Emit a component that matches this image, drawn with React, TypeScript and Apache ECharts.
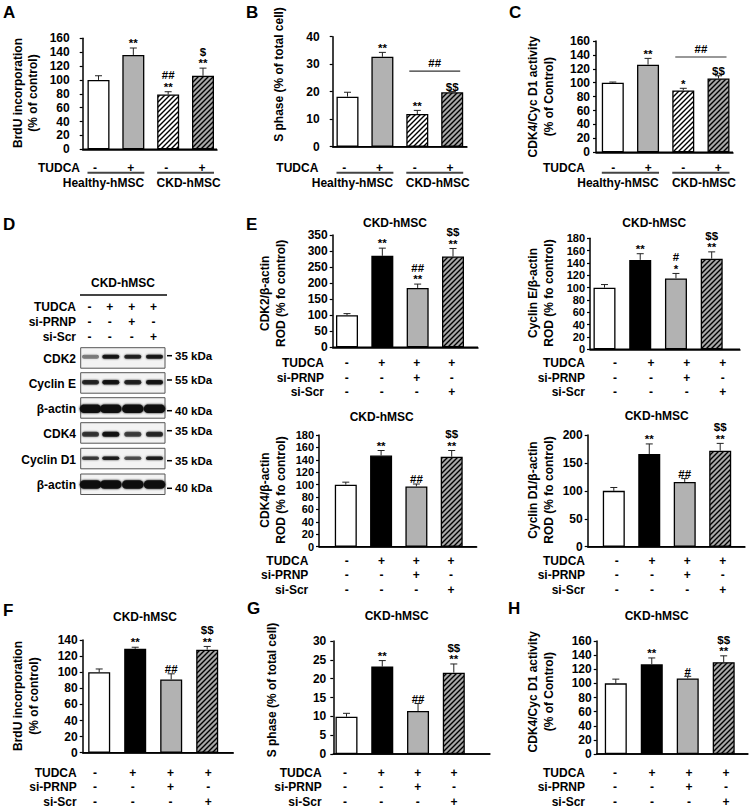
import React, { useEffect, useRef } from 'react';
import * as echarts from 'echarts';

const FONT = '"Liberation Sans", Arial, Helvetica, sans-serif';

// ---------- conditions ----------
const tudcaHealthyCkd = ['-', '+', '-', '+'];
const groupLabels = ['Healthy-hMSC', 'CKD-hMSC'];
const tudcaRow = ['-', '+', '+', '+'];
const siPrnpRow = ['-', '-', '+', '-'];
const siScrRow = ['-', '-', '-', '+'];
const rowNamesAll = ['TUDCA', 'si-PRNP', 'si-Scr'];

// ---------- A: BrdU ----------
const brduA = [100, 136, 79, 106];
const brduAErr = [6, 10, 4, 11];
const brduAMarks = ['', '**', '##\n**', '$\n**'];
// ---------- B: S phase ----------
const sPhaseB = [18.2, 32.7, 11.9, 19.8];
const sPhaseBErr = [1.6, 1.6, 1.3, 0.3];
const sPhaseBMarks = ['', '**', '**', '$$'];
// ---------- C: CDK4/Cyc D1 activity ----------
const cdkActC = [100, 126, 89, 106];
const cdkActCErr = [1, 9, 3, 4];
const cdkActCMarks = ['', '**', '*', '$$'];
// ---------- E ----------
const cdk2E = [100, 285, 185, 283];
const cdk2EErr = [5, 24, 12, 25];
const cdk2EMarks = ['', '**', '##\n**', '$$\n**'];
const cycEE = [100, 145, 115, 147];
const cycEEErr = [5, 10, 8, 11];
const cycEEMarks = ['', '**', '#\n*', '$$\n**'];
const cdk4E = [100, 147, 97, 145];
const cdk4EErr = [4, 8, 4, 10];
const cdk4EMarks = ['', '**', '##', '$$\n**'];
const cycD1E = [100, 166, 116, 172];
const cycD1EErr = [6, 18, 6, 13];
const cycD1EMarks = ['', '**', '##', '$$\n**'];
// ---------- F, G, H ----------
const brduF = [100, 129, 91, 128];
const brduFErr = [4, 2, 7, 4];
const brduFMarks = ['', '**', '##', '$$\n**'];
const sPhaseG = [9.9, 23.2, 11.4, 21.6];
const sPhaseGErr = [0.9, 1.6, 2, 2.3];
const sPhaseGMarks = ['', '**', '##', '$$\n**'];
const cdkActH = [100, 127, 107, 130];
const cdkActHErr = [6, 9, 3, 9];
const cdkActHMarks = ['', '**', '#', '$$\n**'];

// comparison brackets (B, C)
const compB = { from: 2, to: 3, level: 27.5, mark: '##' };
const compC = { from: 2, to: 3, level: 137, mark: '##' };

// ---------- D: western blot ----------
const blotProteins = ['CDK2', 'Cyclin E', 'β-actin', 'CDK4', 'Cyclin D1', 'β-actin'];
const blotKda = ['35 kDa', '55 kDa', '40 kDa', '35 kDa', '35 kDa', '40 kDa'];
const blotIntensity = [
  [0.45, 0.9, 0.82, 0.88],
  [0.8, 0.9, 0.82, 0.9],
  [0.97, 0.97, 0.97, 0.97],
  [0.72, 0.92, 0.68, 0.78],
  [0.7, 0.85, 0.62, 0.85],
  [0.97, 0.97, 0.97, 0.97],
];

const stylesHC = ['white', 'gray', 'hatchWhite', 'hatchGray'];
const stylesKD = ['white', 'black', 'gray', 'hatchGray'];

// ---------- layout ----------
const ROWS_E_TOP = [362.7, 377.7, 391.7];
const ROWS_E_BOT = [560.7, 575, 589.7];
const ROWS_FGH = [772.7, 787.3, 801.7];

const panels: any[] = [
  { values: brduA, errs: brduAErr, marks: brduAMarks, styles: stylesHC, rows: [tudcaHealthyCkd], rowNames: ['TUDCA'], yMax: 160, yStep: 20,
    left: 82.7, right: 217, top: 38.3, bottom: 149.3, barC0: 98.5, barC3: 203, signC0: 95, signC3: 202, rowY: [167.7], nameRight: 80, labelMargin: 13, tickFont: 12 },
  { values: sPhaseB, errs: sPhaseBErr, marks: sPhaseBMarks, styles: stylesHC, rows: [tudcaHealthyCkd], rowNames: ['TUDCA'], yMax: 40, yStep: 10,
    left: 332.7, right: 467, top: 36.7, bottom: 146.7, barC0: 347.5, barC3: 452.2, signC0: 344.3, signC3: 450, rowY: [167.7], nameRight: 318.3, labelMargin: 13, tickFont: 12 },
  { values: cdkActC, errs: cdkActCErr, marks: cdkActCMarks, styles: stylesHC, rows: [tudcaHealthyCkd], rowNames: ['TUDCA'], yMax: 160, yStep: 20,
    left: 596, right: 733, top: 41, bottom: 152.3, barC0: 612.8, barC3: 718.5, signC0: 613.3, signC3: 718.3, rowY: [167.7], nameRight: 585, labelMargin: 6, tickFont: 12 },
  { values: cdk2E, errs: cdk2EErr, marks: cdk2EMarks, styles: stylesKD, rows: [tudcaRow, siPrnpRow, siScrRow], rowNames: rowNamesAll, yMax: 350, yStep: 50,
    left: 332.7, right: 478, top: 235, bottom: 347.3, barC0: 347, barC3: 453, signC0: 346.7, signC3: 451.7, rowY: ROWS_E_TOP, nameRight: 324, labelMargin: 5, tickFont: 12 },
  { values: cycEE, errs: cycEEErr, marks: cycEEMarks, styles: stylesKD, rows: [tudcaRow, siPrnpRow, siScrRow], rowNames: rowNamesAll, yMax: 180, yStep: 20,
    left: 590, right: 740, top: 238.3, bottom: 349.3, barC0: 604.5, barC3: 711.7, signC0: 615, signC3: 722.7, rowY: ROWS_E_TOP, nameRight: 585, labelMargin: 5, tickFont: 11 },
  { values: cdk4E, errs: cdk4EErr, marks: cdk4EMarks, styles: stylesKD, rows: [tudcaRow, siPrnpRow, siScrRow], rowNames: rowNamesAll, yMax: 180, yStep: 20,
    left: 319, right: 476.7, top: 435, bottom: 546.7, barC0: 345.8, barC3: 451.7, signC0: 346.7, signC3: 451, rowY: ROWS_E_BOT, nameRight: 308.3, labelMargin: 5, tickFont: 11 },
  { values: cycD1E, errs: cycD1EErr, marks: cycD1EMarks, styles: stylesKD, rows: [tudcaRow, siPrnpRow, siScrRow], rowNames: rowNamesAll, yMax: 200, yStep: 50,
    left: 587.7, right: 745, top: 435, bottom: 546.7, barC0: 613.8, barC3: 720.2, signC0: 616.7, signC3: 722.7, rowY: ROWS_E_BOT, nameRight: 585, labelMargin: 5, tickFont: 12 },
  { values: brduF, errs: brduFErr, marks: brduFMarks, styles: stylesKD, rows: [tudcaRow, siPrnpRow, siScrRow], rowNames: rowNamesAll, yMax: 140, yStep: 20,
    left: 82.7, right: 233.3, top: 640, bottom: 752.7, barC0: 99.2, barC3: 207.2, signC0: 95, signC3: 208.3, rowY: ROWS_FGH, nameRight: 76.7, labelMargin: 5, tickFont: 12 },
  { values: sPhaseG, errs: sPhaseGErr, marks: sPhaseGMarks, styles: stylesKD, rows: [tudcaRow, siPrnpRow, siScrRow], rowNames: rowNamesAll, yMax: 30, yStep: 5,
    left: 333.3, right: 490, top: 641, bottom: 754, barC0: 346.5, barC3: 453.8, signC0: 345, signC3: 454, rowY: ROWS_FGH, nameRight: 321.7, labelMargin: 7, tickFont: 12 },
  { values: cdkActH, errs: cdkActHErr, marks: cdkActHMarks, styles: stylesKD, rows: [tudcaRow, siPrnpRow, siScrRow], rowNames: rowNamesAll, yMax: 160, yStep: 20,
    left: 596.7, right: 748, top: 641, bottom: 754, barC0: 615.8, barC3: 723.7, signC0: 615, signC3: 726, rowY: ROWS_FGH, nameRight: 585, labelMargin: 5, tickFont: 12 },
];

const BAR_W = 22;

const yNames = [
  { text: 'BrdU incorporation\n(% of control)', x: 25.5, y: 93 },
  { text: 'S phase (% of total cell)', x: 279, y: 74.5 },
  { text: 'CDK4/Cyc D1 activity\n(% of Control)', x: 541, y: 96.7 },
  { text: 'CDK2/β-actin\nROD (% fo control)', x: 273, y: 293.3 },
  { text: 'Cyclin E/β-actin\nROD (% fo control)', x: 540.8, y: 293 },
  { text: 'CDK4/β-actin\nROD (% fo control)', x: 273, y: 490 },
  { text: 'Cyclin D1/β-actin\nROD (% fo control)', x: 541.2, y: 490 },
  { text: 'BrdU incorporation\n(% of control)', x: 25.8, y: 696 },
  { text: 'S phase (% of total cell)', x: 271.7, y: 690 },
  { text: 'CDK4/Cyc D1 activity\n(% of Control)', x: 540.8, y: 691.7 },
];

const titles = [
  { x: 395, y: 222.7 }, { x: 654.3, y: 222.7 }, { x: 381.7, y: 416.7 }, { x: 656.7, y: 415.7 },
  { x: 145, y: 617 }, { x: 396.7, y: 616 }, { x: 656.7, y: 616 },
];

const letters = [
  { t: 'A', x: 3, y: 12 }, { t: 'B', x: 246, y: 12 }, { t: 'C', x: 509, y: 12 },
  { t: 'D', x: 3, y: 224 }, { t: 'E', x: 246, y: 224 },
  { t: 'F', x: 3, y: 610 }, { t: 'G', x: 247, y: 608 }, { t: 'H', x: 508, y: 608 },
];

const txt = { fontSize: 12, fontWeight: 'bold', fontFamily: FONT, color: '#000' };

function makeHatch(bg: string, fg: string, lw: number) {
  const s = 5;
  const c = document.createElement('canvas');
  c.width = s; c.height = s;
  const g = c.getContext('2d') as CanvasRenderingContext2D;
  g.fillStyle = bg; g.fillRect(0, 0, s, s);
  g.strokeStyle = fg; g.lineWidth = lw;
  g.beginPath();
  g.moveTo(-1, s + 1); g.lineTo(s + 1, -1);
  g.moveTo(-1, 1); g.lineTo(1, -1);
  g.moveTo(s - 1, s + 1); g.lineTo(s + 1, s - 1);
  g.stroke();
  return c;
}

function buildOption(pat: any) {
  const fills: any = {
    white: '#ffffff',
    gray: '#b2b2b2',
    black: '#000000',
    hatchWhite: { image: pat.hatchWhite, repeat: 'repeat', imageWidth: 5, imageHeight: 5 },
    hatchGray: { image: pat.hatchGray, repeat: 'repeat', imageWidth: 5, imageHeight: 5 },
  };
  const grid: any[] = [], xAxis: any[] = [], yAxis: any[] = [], series: any[] = [];
  panels.forEach((p, pi) => {
    grid.push({ left: p.left, top: p.top, width: p.right - p.left, height: p.bottom - p.top, containLabel: false, outerBoundsMode: 'none' });
    const kB = (p.barC3 - p.barC0) / 3;
    const bMin = -(p.barC0 - p.left) / kB;
    const bMax = bMin + (p.right - p.left) / kB;
    const mainX = xAxis.length;
    xAxis.push({
      type: 'value', gridIndex: pi, min: bMin, max: bMax, position: 'bottom',
      axisLine: { show: true, onZero: false, lineStyle: { color: '#000', width: 1.5 } },
      axisTick: { show: false }, axisLabel: { show: false }, splitLine: { show: false },
    });
    const kS = (p.signC3 - p.signC0) / 3;
    const sMin = -(p.signC0 - p.left) / kS;
    const sMax = sMin + (p.right - p.left) / kS;
    p.rows.forEach((row: string[], ri: number) => {
      xAxis.push({
        type: 'value', gridIndex: pi, min: sMin, max: sMax, position: 'bottom', offset: p.rowY[ri] - p.bottom,
        axisLine: { show: false, onZero: false }, axisTick: { show: false }, splitLine: { show: false },
        axisLabel: { ...txt, lineHeight: 12, customValues: [0, 1, 2, 3], formatter: (v: number) => row[Math.round(v)] ?? '', margin: 0, verticalAlign: 'middle' },
        name: p.rowNames[ri], nameLocation: 'start', nameGap: p.left - p.nameRight,
        nameTextStyle: { ...txt, lineHeight: 12, align: 'right', verticalAlign: 'middle' },
      });
    });
    yAxis.push({
      type: 'value', gridIndex: pi, min: 0, max: p.yMax, interval: p.yStep,
      axisLine: { show: true, onZero: false, lineStyle: { color: '#000', width: 1.5 } },
      axisTick: { show: true, length: 3, lineStyle: { color: '#000', width: 1.2 } },
      splitLine: { show: false },
      axisLabel: { ...txt, fontSize: p.tickFont, lineHeight: 11, margin: p.labelMargin },
    });
    series.push({
      type: 'bar', xAxisIndex: mainX, yAxisIndex: pi, barWidth: BAR_W, clip: false, z: 2,
      data: p.values.map((v: number, i: number) => ({
        value: [i, v],
        itemStyle: { color: fills[p.styles[i]], borderColor: '#000', borderWidth: 1.3 },
      })),
    });
    const marks: string[] = p.marks;
    series.push({
      type: 'custom', xAxisIndex: mainX, yAxisIndex: pi, clip: false, z: 3,
      encode: { x: 0, y: 1 },
      data: p.values.map((v: number, i: number) => [i, v, p.errs[i]]),
      renderItem: (params: any, api: any) => {
        const x = api.value(0), v = api.value(1), e = api.value(2);
        const b = api.coord([x, v]);
        const t = api.coord([x, v + e]);
        const children: any[] = [];
        if (e > 0) {
          children.push({ type: 'line', shape: { x1: b[0], y1: b[1], x2: t[0], y2: t[1] }, style: { stroke: '#222', lineWidth: 1 } });
          children.push({ type: 'line', shape: { x1: t[0] - 3.5, y1: t[1], x2: t[0] + 3.5, y2: t[1] }, style: { stroke: '#222', lineWidth: 1 } });
        }
        const m = marks[params.dataIndex];
        if (m) {
          children.push({
            type: 'text', x: t[0], y: t[1] + 1,
            style: { text: m, align: 'center', verticalAlign: 'bottom', lineHeight: 11.5, fontSize: 11.5, fontWeight: 'bold', fontFamily: FONT, fill: '#000' },
          });
        }
        return { type: 'group', children };
      },
    });
  });
  return { animation: false, backgroundColor: '#ffffff', grid, xAxis, yAxis, series };
}

function T(text: string, x: number, y: number, extra: any = {}) {
  return {
    type: 'text', x, y, silent: true,
    style: { text, fontSize: 12, fontWeight: 'bold', fontFamily: FONT, fill: '#000', align: 'center', verticalAlign: 'middle', ...extra },
  };
}
function L(x1: number, y1: number, x2: number, y2: number, w = 1.5, c = '#444') {
  return { type: 'line', silent: true, shape: { x1, y1, x2, y2 }, style: { stroke: c, lineWidth: w } };
}

function buildGraphics(px: (pi: number, x: number, y: number) => number[]) {
  const els: any[] = [];
  letters.forEach((l) => els.push(T(l.t, l.x, l.y, { align: 'left', fontSize: 17 })));
  titles.forEach((t) => els.push(T('CKD-hMSC', t.x, t.y)));
  yNames.forEach((n) => els.push({ ...T(n.text, n.x, n.y, { lineHeight: 15.5 }), rotation: Math.PI / 2 }));

  // x-axis baselines (category axis line of each chart)
  panels.forEach((p, pi) => {
    const y0 = px(pi, 0, 0)[1];
    els.push({ ...L(p.left, y0, p.right, y0, 1.5, '#000'), z: 10 });
  });

  // group brackets for A, B, C
  const groupDx = [-12.5, 3];
  [0, 1, 2].forEach((pi) => {
    groupLabels.forEach((g, gi) => {
      const i0 = gi * 2, i1 = gi * 2 + 1;
      const xa = px(pi, i0, 0)[0] - BAR_W / 2;
      const xb = px(pi, i1, 0)[0] + BAR_W / 2;
      els.push(L(xa, 172.7, xb, 172.7, 2, '#444'));
      els.push(T(g, px(pi, i0 + 0.5, 0)[0] + groupDx[gi], 183));
    });
  });
  // comparison lines for B, C
  [[1, compB], [2, compC]].forEach(([pi, c]: any) => {
    const a = px(pi, c.from, c.level), b = px(pi, c.to, c.level);
    els.push(L(a[0] - 8, a[1], b[0] + 8, b[1], 1.2, '#333'));
    els.push(T(c.mark, (a[0] + b[0]) / 2, a[1] - 2, { verticalAlign: 'bottom', fontSize: 11.5 }));
  });

  // D: blot
  const lanes = [90.5, 110.8, 132.8, 154.5];
  const boxX = 80.7, boxW = 84.3, boxH = 20.5;
  const boxTops = [347.7, 372.7, 397.7, 422.7, 448.3, 474];
  const bandDy = [9, 9.6, 11, 11.5, 10, 10.5];
  const bandH = [4, 4.5, 8.5, 5, 3.5, 8.5];
  const bandW = [17, 17, 21.5, 17, 17, 21.5];
  const kdaY = [355.7, 380, 410.7, 430.7, 460.7, 488.3];
  els.push(T('CKD-hMSC', 123, 282.7));
  els.push(L(80, 295, 167, 295, 2, '#444'));
  const blotRows = [tudcaRow, siPrnpRow, siScrRow];
  const blotRowY = [307.3, 321.7, 336.7];
  blotRows.forEach((r, ri) => {
    els.push(T(rowNamesAll[ri], 76, blotRowY[ri], { align: 'right' }));
    r.forEach((s, li) => els.push(T(s, lanes[li] - 1, blotRowY[ri])));
  });
  blotProteins.forEach((name, bi) => {
    const top = boxTops[bi];
    els.push({ type: 'rect', silent: true, shape: { x: boxX, y: top, width: boxW, height: boxH }, style: { fill: '#f3f3f3', stroke: '#555', lineWidth: 1 } });
    blotIntensity[bi].forEach((a, li) => {
      const cy = top + bandDy[bi];
      const col = `rgba(15,15,15,${a})`;
      els.push({
        type: 'rect', silent: true,
        shape: { x: lanes[li] - bandW[bi] / 2, y: cy - bandH[bi] / 2, width: bandW[bi], height: bandH[bi], r: bandH[bi] / 2 },
        style: { fill: col, shadowBlur: 2, shadowColor: col },
      });
    });
    els.push(T(name, 76, top + boxH / 2 + 1, { align: 'right' }));
    els.push(L(167, kdaY[bi], 172, kdaY[bi], 1.5, '#000'));
    els.push(T(blotKda[bi], 175, kdaY[bi], { align: 'left', fontSize: 11.5 }));
  });
  return els;
}

export default function App() {
  const ref = useRef<HTMLDivElement>(null);
  useEffect(() => {
    const el = ref.current;
    if (!el) return;
    const chart = echarts.init(el, null, { renderer: 'svg' });
    const pat = { hatchWhite: makeHatch('#ffffff', '#000000', 1.4), hatchGray: makeHatch('#a8a8a8', '#000000', 1.4) };
    chart.setOption(buildOption(pat) as any);
    const px = (pi: number, x: number, y: number) => chart.convertToPixel({ seriesIndex: pi * 2 } as any, [x, y]) as number[];
    chart.setOption({ graphic: { elements: buildGraphics(px) } } as any);
    return () => chart.dispose();
  }, []);
  return <div ref={ref} style={{ position: 'absolute', left: 0, top: 0, width: 751, height: 808, background: '#fff' }} />;
}
